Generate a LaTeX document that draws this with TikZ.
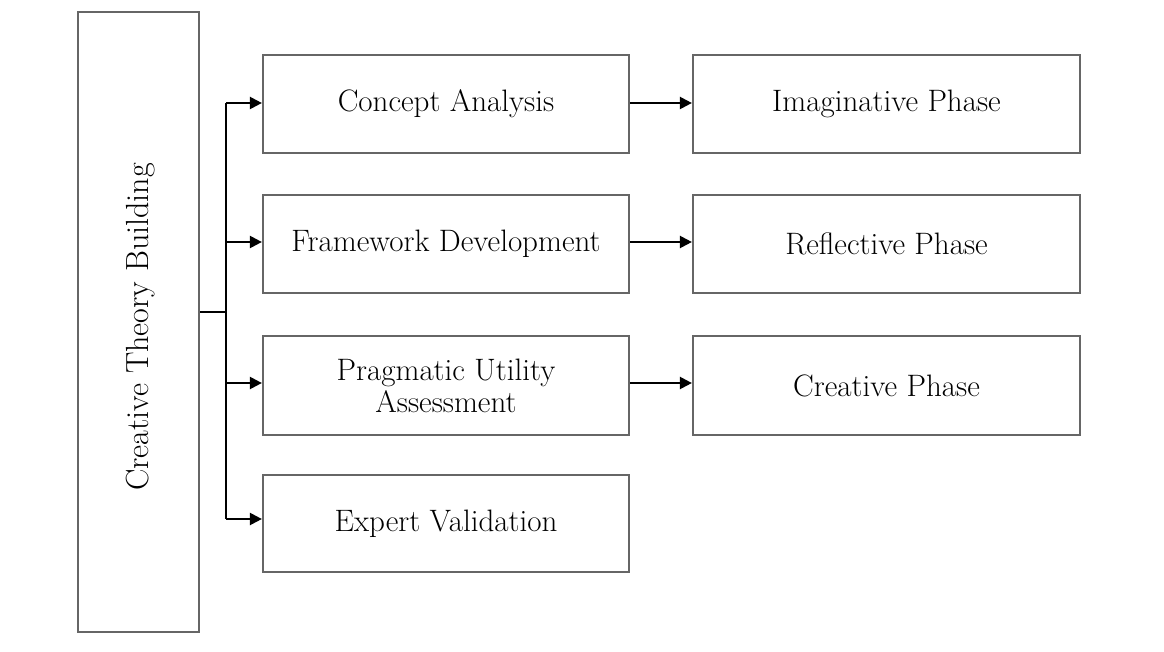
\documentclass[tikz,border=0pt]{standalone}
\usetikzlibrary{arrows.meta}
\begin{document}
\begin{tikzpicture}[x=1pt,y=-1pt,
  box/.style={draw=black!60,line width=2.2pt,fill=white,inner sep=0pt,align=center,font=\fontsize{31}{32}\selectfont},
  conn/.style={draw=black,line width=2.2pt,-{Triangle[length=12pt,width=12pt]}},
  trunk/.style={draw=black,line width=2.2pt}]
\useasboundingbox (0,0) rectangle (1164,652);
\node[box,minimum width=121pt,minimum height=620pt] (ctb) at (138.5,322) {};
\node[rotate=90,font=\fontsize{32}{34}\selectfont] (ctbl) at (141,327) {Creative Theory Building};
\node[box,minimum width=366pt,minimum height=98pt] (ca) at (446,104) {Concept Analysis};
\node[box,minimum width=366pt,minimum height=98pt] (fd) at (446,244) {Framework Development};
\node[box,minimum width=366pt,minimum height=99pt] (pu) at (446,385.5) {Pragmatic Utility\\Assessment};
\node[box,minimum width=366pt,minimum height=97pt] (ev) at (446,523.5) {Expert Validation};
\node[box,minimum width=387pt,minimum height=98pt] (ip) at (886.5,104) {Imaginative Phase};
\node[box,minimum width=387pt,minimum height=98pt] (rp) at (886.5,244) {Reflective Phase};
\node[box,minimum width=387pt,minimum height=99pt] (cp) at (886.5,385.5) {Creative Phase};
\coordinate (j) at (226,312);
\coordinate (top) at (226,103);
\coordinate (bot) at (226,519);
\draw[trunk] (ctb.east |- j) -- (j);
\draw[trunk] (top) -- (bot);
\draw[conn] (top) -- (ca.west |- top);
\draw[conn] (226,242) -- (fd.west |- 0,242);
\draw[conn] (226,383) -- (pu.west |- 0,383);
\draw[conn] (bot) -- (ev.west |- bot);
\draw[conn] (ca.east |- 0,103) -- (ip.west |- 0,103);
\draw[conn] (fd.east |- 0,242) -- (rp.west |- 0,242);
\draw[conn] (pu.east |- 0,383) -- (cp.west |- 0,383);
\end{tikzpicture}
\end{document}
